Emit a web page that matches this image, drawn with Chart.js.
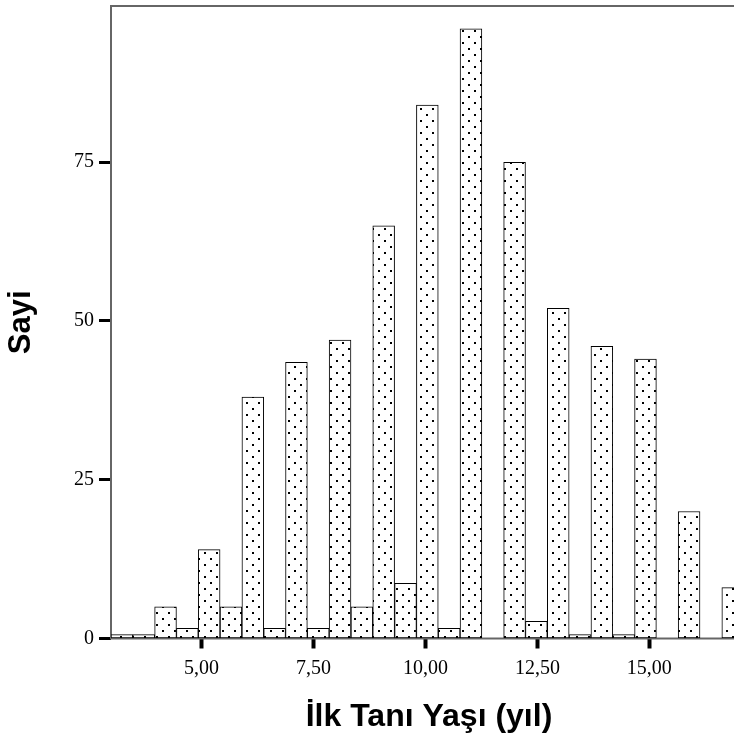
<!DOCTYPE html>
<html>
<head>
<meta charset="utf-8">
<script src="https://cdn.jsdelivr.net/npm/chart.js@4.4.1/dist/chart.umd.min.js"></script>
<style>
  html, body { margin: 0; padding: 0; background: #fff; overflow: hidden; }
  #wrap { width: 734px; height: 740px; overflow: hidden; }
</style>
</head>
<body>
<div id="wrap"><canvas id="hist" width="752" height="740"></canvas></div>
<script>
// histogram bins (centre of each bin, in years) and counts
var binCenters = [3.222, 3.709, 4.196, 4.683, 5.170, 5.657, 6.145, 6.632, 7.119, 7.606,
                  8.093, 8.580, 9.067, 9.555, 10.042, 10.529, 11.016, 11.503, 11.990, 12.477,
                  12.965, 13.452, 13.939, 14.426, 14.913, 15.400, 15.887, 16.375, 16.862];
var counts = [0.6, 0.6, 5, 1.6, 14, 5, 38, 1.6, 43.5, 1.6,
              47, 5, 65, 8.7, 84, 1.6, 96, 0, 75, 2.7,
              52, 0.6, 46, 0.6, 44, 0, 20, 0, 8];
var xTickValues = [5, 7.5, 10, 12.5, 15];
var yTickValues = [0, 25, 50, 75];
var xRange = [2.978, 17.18];
var yRange = [0, 99.6];

// dotted fill like the SPSS pattern
function dotPattern() {
  var c = document.createElement('canvas');
  c.width = 12; c.height = 12;
  var g = c.getContext('2d');
  g.fillStyle = '#fff';
  g.fillRect(0, 0, 12, 12);
  g.fillStyle = '#000';
  g.fillRect(0, 0, 2, 2);
  g.fillRect(6, 6, 2, 2);
  return g.createPattern(c, 'repeat');
}

// grey frame round the plot area, drawn under the bars
var framePlugin = {
  id: 'frame',
  beforeDatasetsDraw: function(chart) {
    var a = chart.chartArea, ctx = chart.ctx;
    ctx.save();
    ctx.strokeStyle = '#666';
    ctx.lineWidth = 2;
    ctx.strokeRect(a.left, a.top, a.right - a.left, a.bottom - a.top);
    ctx.restore();
  }
};

var points = binCenters.map(function(x, i) { return { x: x, y: counts[i] }; });

new Chart(document.getElementById('hist').getContext('2d'), {
  type: 'bar',
  data: {
    datasets: [{
      label: 'Sayi',
      data: points,
      backgroundColor: dotPattern(),
      borderColor: '#000',
      borderWidth: 1,
      borderSkipped: false,
      barPercentage: 1.0,
      categoryPercentage: 1.0
    }]
  },
  plugins: [framePlugin],
  options: {
    responsive: false,
    animation: false,
    layout: { padding: { top: 6, right: 5, left: 0, bottom: 0 } },
    plugins: { legend: { display: false }, tooltip: { enabled: false } },
    scales: {
      x: {
        type: 'linear',
        offset: false,
        min: xRange[0],
        max: xRange[1],
        afterBuildTicks: function(scale) {
          scale.ticks = xTickValues.map(function(v) { return { value: v }; });
        },
        afterFit: function(scale) {
          scale.height = 101.5;
          scale.paddingLeft = 0;
          scale.paddingRight = 0;
        },
        border: { display: false },
        grid: {
          display: true,
          offset: false,
          drawOnChartArea: false,
          drawTicks: true,
          tickLength: 10,
          tickWidth: 4,
          tickColor: '#000'
        },
        ticks: {
          color: '#000',
          padding: 8,
          maxRotation: 0,
          autoSkip: false,
          font: { family: 'Liberation Serif', size: 20 },
          callback: function(v) { return Number(v).toFixed(2).replace('.', ','); }
        },
        title: {
          display: true,
          text: 'İlk Tanı Yaşı (yıl)',
          color: '#000',
          font: { family: 'Liberation Sans', size: 32, weight: 'bold' },
          padding: { top: 16, bottom: 4 }
        }
      },
      y: {
        min: yRange[0],
        max: yRange[1],
        afterBuildTicks: function(scale) {
          scale.ticks = yTickValues.map(function(v) { return { value: v }; });
        },
        afterFit: function(scale) {
          scale.width = 111;
          scale.paddingTop = 0;
          scale.paddingBottom = 0;
        },
        border: { display: false },
        grid: {
          display: true,
          drawOnChartArea: false,
          drawTicks: true,
          tickLength: 12,
          tickWidth: 3,
          tickColor: '#000'
        },
        ticks: {
          color: '#000',
          padding: 5,
          font: { family: 'Liberation Serif', size: 20 }
        },
        title: {
          display: true,
          text: 'Sayi',
          color: '#000',
          font: { family: 'Liberation Sans', size: 31, weight: 'bold' },
          padding: { top: 3, bottom: 4 }
        }
      }
    }
  }
});
</script>
</body>
</html>
